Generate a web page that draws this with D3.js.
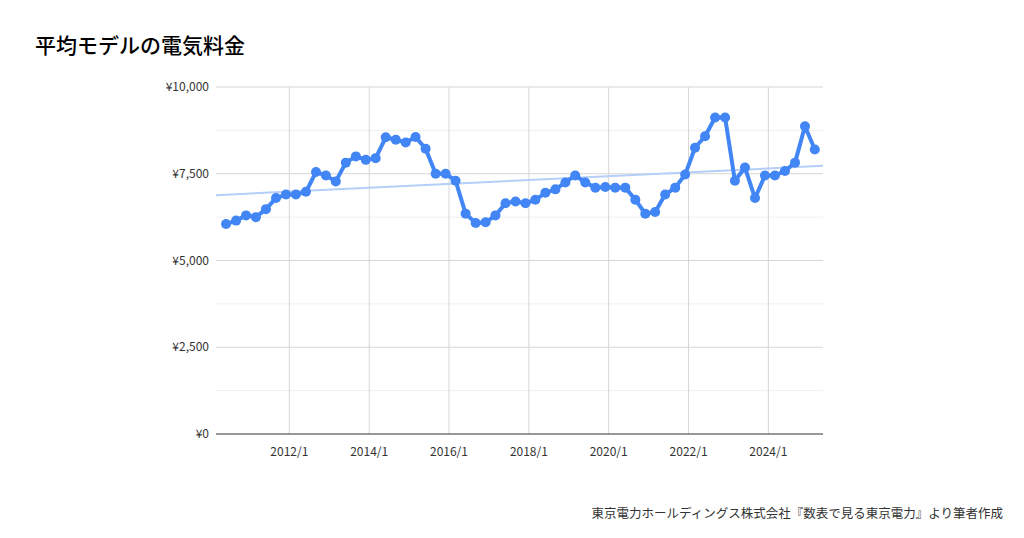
<!DOCTYPE html>
<html><head><meta charset="utf-8">
<script src="https://cdn.jsdelivr.net/npm/d3@7"></script>
<style>
body{margin:0;background:#fff;font-family:"Noto Sans CJK JP","Noto Sans",sans-serif;}
</style></head>
<body><svg id="c" width="1024" height="538"></svg>
<script>
// quarterly values, first point 2010/6
const startMonth = new Date(2010, 5, 1);
const values = [6050,6150,6300,6250,6480,6800,6900,6900,6980,7550,7450,7280,7820,8000,7900,7950,
  8550,8480,8400,8560,8220,7500,7500,7300,6350,6080,6100,6300,6650,6700,6650,6750,
  6950,7050,7250,7450,7250,7100,7120,7100,7100,6750,6350,6400,6900,7100,7480,8250,
  8580,9120,9120,7300,7680,6800,7450,7450,7580,7820,8870,8200];
const yTicks = [0,2500,5000,7500,10000];
const yMinor = [1250,3750,6250,8750];
const xTickYears = [2012,2014,2016,2018,2020,2022,2024];

const data = values.map((v,i)=>({d:d3.timeMonth.offset(startMonth, i*3), v}));
const svg = d3.select('#c');
const x = d3.scaleTime().domain([new Date(2010,2,1), new Date(2025,4,15)]).range([216,823]);
const y = d3.scaleLinear().domain([0,10000]).range([434,87]);

svg.append('text').attr('x',35).attr('y',53).attr('font-size',21).attr('font-weight',500).text('平均モデルの電気料金');

svg.selectAll('.ym').data(yMinor).join('line').attr('x1',216).attr('x2',823)
  .attr('y1',d=>y(d)).attr('y2',d=>y(d)).attr('stroke','#efefef');
svg.selectAll('.yg').data(yTicks.slice(1)).join('line').attr('x1',216).attr('x2',823)
  .attr('y1',d=>y(d)).attr('y2',d=>y(d)).attr('stroke','#d6d6d6');
svg.selectAll('.xg').data(xTickYears).join('line')
  .attr('x1',d=>x(new Date(d,0,1))).attr('x2',d=>x(new Date(d,0,1)))
  .attr('y1',87).attr('y2',434).attr('stroke','#d6d6d6');
svg.append('line').attr('x1',216).attr('x2',823).attr('y1',434).attr('y2',434).attr('stroke','#333');

svg.selectAll('.yl').data(yTicks).join('text').attr('x',209).attr('y',d=>y(d)+4)
  .attr('text-anchor','end').attr('font-size',12).attr('fill','#333')
  .text(d=>'¥'+d3.format(',')(d));
svg.selectAll('.xl').data(xTickYears).join('text').attr('x',d=>x(new Date(d,0,1)))
  .attr('y',456).attr('text-anchor','middle').attr('font-size',12).attr('fill','#333')
  .text(d=>d+'/1');

// linear trend
const xs = data.map(p=>+p.d), n = xs.length;
const mx = d3.mean(xs), my = d3.mean(values);
const slope = d3.sum(xs.map((t,i)=>(t-mx)*(values[i]-my)))/d3.sum(xs.map(t=>(t-mx)**2));
const x0 = x.domain()[0], x1 = x.domain()[1];
svg.append('line').attr('x1',x(x0)).attr('x2',x(x1))
  .attr('y1',y(my+slope*(+x0-mx))).attr('y2',y(my+slope*(+x1-mx)))
  .attr('stroke','#b5cff8').attr('stroke-width',2);

svg.append('path').datum(data).attr('fill','none').attr('stroke','#4285f4')
  .attr('stroke-width',4).attr('stroke-linejoin','round')
  .attr('d',d3.line().x(p=>x(p.d)).y(p=>y(p.v)));
svg.selectAll('.pt').data(data).join('circle').attr('cx',p=>x(p.d)).attr('cy',p=>y(p.v))
  .attr('r',5).attr('fill','#4285f4');

svg.append('text').attr('x',1003).attr('y',518).attr('text-anchor','end').attr('font-size',12.5)
  .attr('fill','#333').text('東京電力ホールディングス株式会社『数表で見る東京電力』より筆者作成');
</script></body></html>
